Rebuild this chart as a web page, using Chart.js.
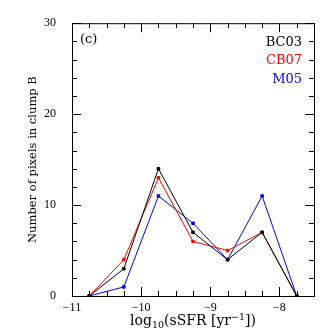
<!DOCTYPE html>
<html>
<head>
<meta charset="utf-8">
<script src="https://cdn.jsdelivr.net/npm/chart.js@4"></script>
<style>
  html, body { margin: 0; padding: 0; background: #fff; }
  canvas { display: block; }
</style>
</head>
<body>
<canvas id="chart" width="332" height="332"></canvas>
<script>
// bin centres of log10(sSFR)
const binCenters = [-10.75, -10.25, -9.75, -9.25, -8.75, -8.25, -7.75];
const bc03 = [0, 3, 14, 7, 4, 7, 0];
const cb07 = [0, 4, 13, 6, 5, 7, 0];
const m05 = [0, 1, 11, 8, 4, 11, 0];
const xTicks = [-11, -10, -9, -8];
const yTicks = [0, 10, 20, 30];

const serif = '"DejaVu Serif", "Liberation Serif", serif';

function toPoints(vals) {
    return binCenters.map((x, i) => ({ x: x, y: vals[i] }));
}

function series(label, vals, color) {
    return {
        label: label,
        data: toPoints(vals),
        borderColor: color,
        backgroundColor: color,
        borderWidth: 1,
        pointStyle: 'rect',
        pointRadius: 1.8,
        showLine: true
    };
}

// frame, inward ticks, titles and text labels
const framePlugin = {
    id: 'frame',
    afterDraw(chart) {
        const ctx = chart.ctx;
        const a = chart.chartArea;
        const xs = chart.scales.x, ys = chart.scales.y;
        ctx.save();
        ctx.strokeStyle = '#000';
        ctx.lineWidth = 1;
        ctx.strokeRect(a.left + 0.5, a.top + 0.5, a.right - a.left, a.bottom - a.top);

        ctx.beginPath();
        for (let v = -11; v <= -7.5; v += 0.25) {
            const px = Math.round(xs.getPixelForValue(v)) + 0.5;
            const len = Number.isInteger(v) ? 9 : 5;
            ctx.moveTo(px, a.bottom); ctx.lineTo(px, a.bottom - len);
            ctx.moveTo(px, a.top); ctx.lineTo(px, a.top + len);
        }
        for (let v = 0; v <= 30; v += 2) {
            const py = Math.round(ys.getPixelForValue(v)) + 0.5;
            const len = v % 10 === 0 ? 9 : 5;
            ctx.moveTo(a.left, py); ctx.lineTo(a.left + len, py);
            ctx.moveTo(a.right, py); ctx.lineTo(a.right - len, py);
        }
        ctx.stroke();

        // panel label and legend text
        ctx.font = '13px ' + serif;
        ctx.textBaseline = 'middle';
        ctx.textAlign = 'left';
        ctx.fillStyle = '#000';
        ctx.fillText('(c)', a.left + 8, a.top + 16);
        ctx.textAlign = 'right';
        const names = ['BC03', 'CB07', 'M05'];
        const cols = ['#000000', '#ff0000', '#0000ff'];
        names.forEach((n, i) => {
            ctx.fillStyle = cols[i];
            ctx.fillText(n, a.right - 12, a.top + 19 + i * 18.5);
        });

        // y title
        ctx.fillStyle = '#000';
        ctx.save();
        ctx.translate(33, (a.top + a.bottom) / 2);
        ctx.rotate(-Math.PI / 2);
        ctx.textAlign = 'center';
        ctx.font = '11.5px ' + serif;
        ctx.fillText('Number of pixels in clump B', 0, 0);
        ctx.restore();

        // x title with sub/superscript
        const parts = [
            { t: 'log', f: 14, dy: 0 },
            { t: '10', f: 9.5, dy: 3 },
            { t: '(sSFR [yr', f: 14, dy: 0 },
            { t: '\u22121', f: 9.5, dy: -5 },
            { t: '])', f: 14, dy: 0 }
        ];
        ctx.textAlign = 'left';
        ctx.textBaseline = 'alphabetic';
        let total = 0;
        parts.forEach(p => { ctx.font = p.f + 'px ' + serif; p.w = ctx.measureText(p.t).width; total += p.w; });
        let x = (a.left + a.right) / 2 - total / 2;
        const base = 325;
        parts.forEach(p => {
            ctx.font = p.f + 'px ' + serif;
            ctx.fillText(p.t, x, base + p.dy);
            x += p.w;
        });
        ctx.restore();
    }
};

new Chart(document.getElementById('chart'), {
    type: 'scatter',
    data: {
        datasets: [
            series('BC03', bc03, '#000000'),
            series('CB07', cb07, '#ff0000'),
            series('M05', m05, '#0000ff')
        ]
    },
    options: {
        responsive: false,
        animation: false,
        layout: { padding: { top: 18, right: 18, left: 0, bottom: 0 } },
        plugins: {
            legend: { display: false },
            tooltip: { enabled: false }
        },
        scales: {
            x: {
                type: 'linear',
                min: -11,
                max: -7.5,
                grid: { display: false, drawTicks: false },
                border: { display: false },
                afterBuildTicks: s => { s.ticks = xTicks.map(v => ({ value: v })); },
                afterFit: s => { s.height = 36; },
                ticks: {
                    padding: 5,
                    color: '#000',
                    font: { family: '"Liberation Serif", serif', size: 12 },
                    callback: v => v < 0 ? '\u2212' + Math.abs(v) : String(v)
                }
            },
            y: {
                min: 0,
                max: 30,
                grid: { display: false, drawTicks: false },
                border: { display: false },
                afterBuildTicks: s => { s.ticks = yTicks.map(v => ({ value: v })); },
                afterFit: s => { s.width = 72; },
                ticks: {
                    padding: 16,
                    color: '#000',
                    font: { family: '"Liberation Serif", serif', size: 12 }
                }
            }
        }
    },
    plugins: [framePlugin]
});
</script>
</body>
</html>
